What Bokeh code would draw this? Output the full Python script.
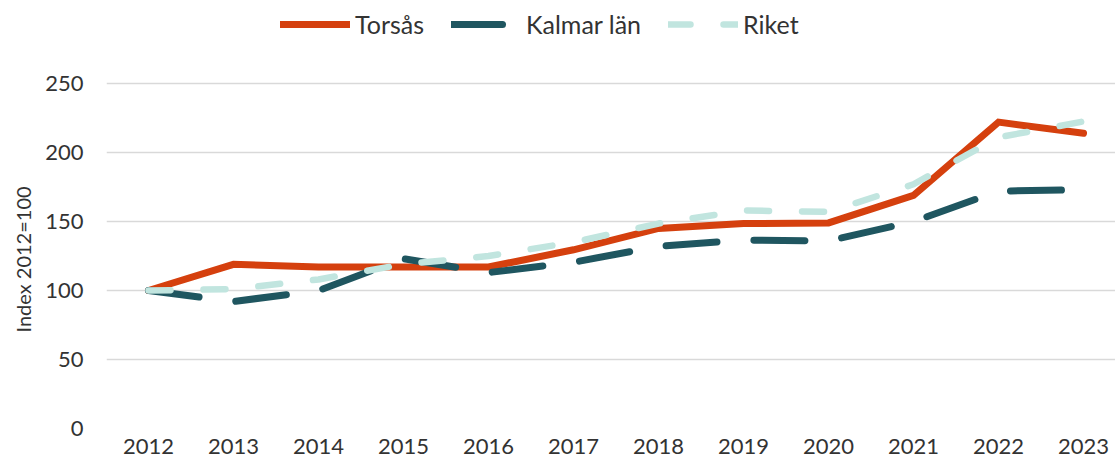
from bokeh.plotting import figure
from bokeh.models import Range1d, FixedTicker, Legend, LegendItem, Title
from bokeh.embed import file_html
from bokeh.resources import INLINE

years = [2012, 2013, 2014, 2015, 2016, 2017, 2018, 2019, 2020, 2021, 2022, 2023]
torsas = [100, 119, 117, 117, 117, 129.5, 145, 148.5, 149, 169, 222, 214]
kalmar = [100, 92, 100, 123, 113, 120.5, 132, 136.5, 136, 150, 172, 173]
riket = [100, 101, 108, 119, 125, 135, 148.5, 158, 157, 177, 211, 222.5]
y_ticks = [0, 50, 100, 150, 200, 250]
series_names = ["Torsås", "Kalmar län", "Riket"]
y_label = "Index 2012=100"

FONT = "Lato"
TXT = "#333333"

p = figure(
    frame_width=1009, frame_height=418,
    x_range=Range1d(2011.506, 2023.376), y_range=Range1d(0, 302.9),
    output_backend="svg", toolbar_location=None,
    min_border_left=106, min_border_right=0, min_border_top=10, min_border_bottom=0,
)
p.outline_line_color = None
p.background_fill_color = "white"
p.border_fill_color = "white"

# axes
p.xaxis.ticker = FixedTicker(ticks=years)
p.xaxis.major_label_overrides = {y: str(y) for y in years}
p.yaxis.ticker = FixedTicker(ticks=y_ticks)
for ax in (p.xaxis[0], p.yaxis[0]):
    ax.axis_line_color = None
    ax.major_tick_line_color = None
    ax.minor_tick_line_color = None
    ax.major_tick_out = 0
    ax.major_tick_in = 0
    ax.major_label_text_font = FONT
    ax.major_label_text_font_size = "22px"
    ax.major_label_text_color = TXT
p.xaxis.major_label_standoff = 10
p.yaxis.major_label_standoff = 23

# y axis title, placed along the 0-250 region of the frame
ytitle = Title(text=y_label, align="left", offset=96, standoff=16,
               text_font=FONT, text_font_size="20px", text_font_style="normal",
               text_color=TXT)
p.add_layout(ytitle, "left")

p.xgrid.grid_line_color = None
p.ygrid.grid_line_color = "#d9d9d9"
p.ygrid.grid_line_width = 1.6

r1 = p.line(years, torsas, line_color="#d5400e", line_width=7, line_join="miter", line_cap="round")
r2 = p.line(years, kalmar, line_color="#1f5660", line_width=7, line_dash="51 37", line_cap="round", line_join="round")
r3 = p.line(years, riket, line_color="#c1e5df", line_width=6.5, line_dash="22 33", line_cap="round", line_join="round")

legend = Legend(
    items=[LegendItem(label=series_names[0], renderers=[r1]),
           LegendItem(label=series_names[1], renderers=[r2]),
           LegendItem(label=series_names[2], renderers=[r3])],
    orientation="horizontal", location=(174, 389),
    glyph_width=70, glyph_height=24, label_height=24, label_standoff=5, spacing=27,
    padding=0, margin=0, border_line_color=None, background_fill_alpha=0,
    label_text_font=FONT, label_text_font_size="25px", label_text_color=TXT,
)
p.add_layout(legend, "center")

open("out.html", "w").write(file_html(p, INLINE))
